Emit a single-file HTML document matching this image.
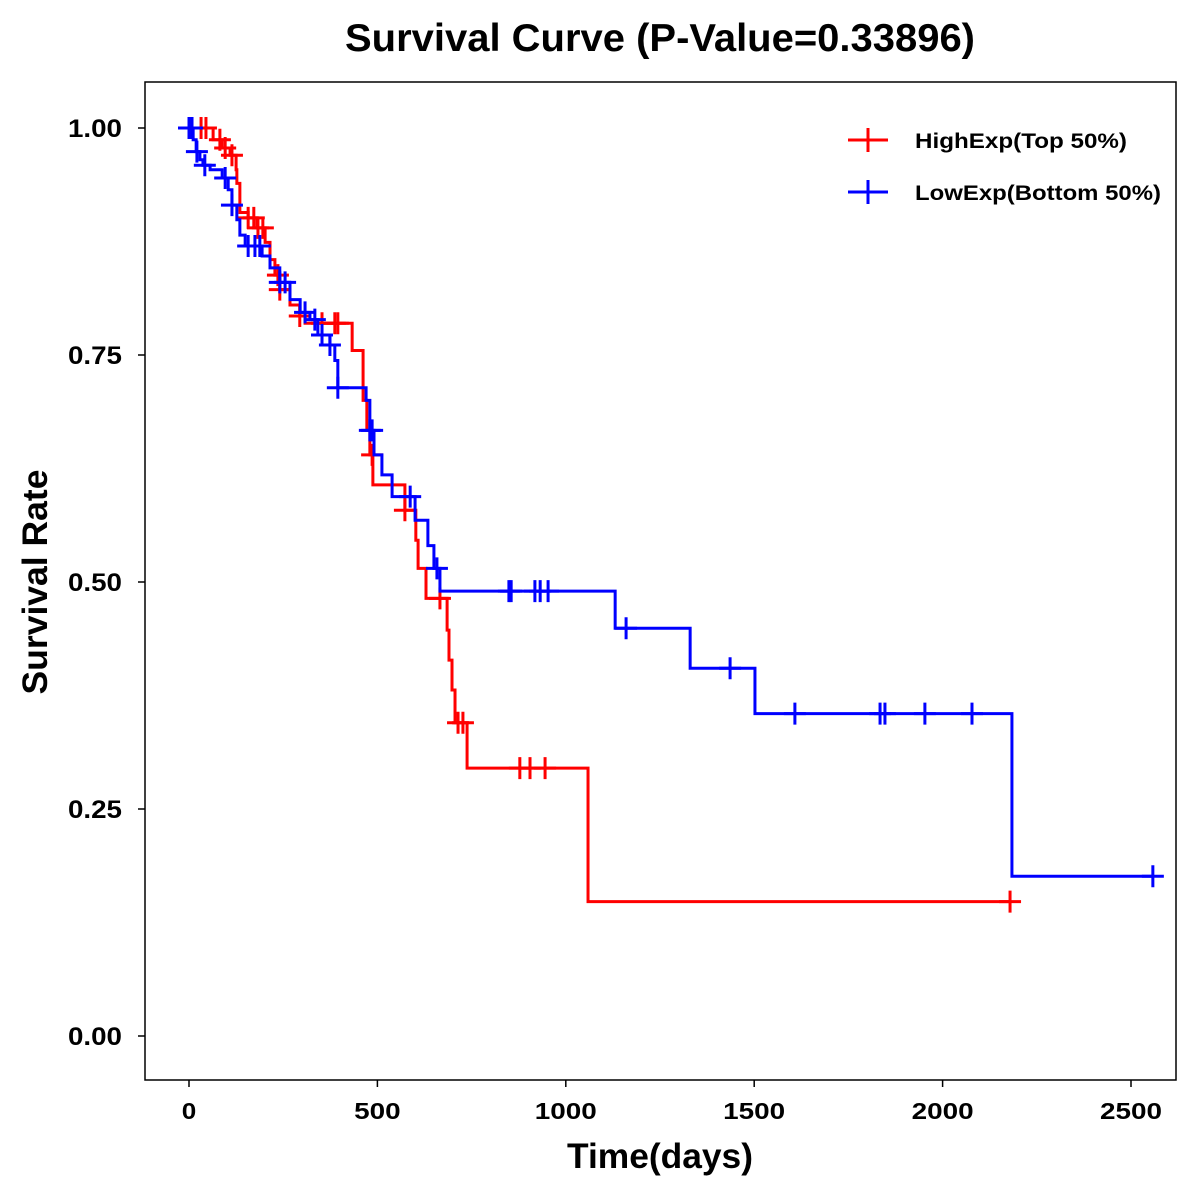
<!DOCTYPE html>
<html><head><meta charset="utf-8"><style>body{margin:0;background:#fff}svg{display:block}text{font-family:"Liberation Sans",Arial,sans-serif;font-weight:bold}</style></head>
<body>
<svg id="chart" width="1200" height="1200" viewBox="0 0 1200 1200">
<rect x="0" y="0" width="1200" height="1200" fill="#fff"/>
<text x="660" y="51" font-size="39" text-anchor="middle" textLength="630" lengthAdjust="spacingAndGlyphs">Survival Curve (P-Value=0.33896)</text>
<rect x="145" y="82" width="1031" height="998" fill="none" stroke="#000" stroke-width="1.5"/>
<g id="axes"></g>
<g id="series"></g>
<text x="660" y="1168" font-size="35" text-anchor="middle" textLength="186" lengthAdjust="spacingAndGlyphs">Time(days)</text>
<text x="47" y="582" font-size="35" text-anchor="middle" transform="rotate(-90 47 582)" textLength="225" lengthAdjust="spacingAndGlyphs">Survival Rate</text>
<g>
<g><line x1="848" y1="140" x2="888" y2="140" stroke="#f00" stroke-width="3"/><line x1="868" y1="128" x2="868" y2="152" stroke="#f00" stroke-width="3"/><text x="915" y="148" font-size="21" textLength="212" lengthAdjust="spacingAndGlyphs">HighExp(Top 50%)</text></g>
<g><line x1="848" y1="192" x2="888" y2="192" stroke="#00f" stroke-width="3"/><line x1="868" y1="180" x2="868" y2="204" stroke="#00f" stroke-width="3"/><text x="915" y="200" font-size="21" textLength="246" lengthAdjust="spacingAndGlyphs">LowExp(Bottom 50%)</text></g>
</g>
</svg>
<script>
const xTicks = [0,500,1000,1500,2000,2500];
const yTicks = [0,0.25,0.5,0.75,1.0];
const yTickLabels = ["0.00","0.25","0.50","0.75","1.00"];
const highTimes = [64,88,109,125,127,135,157,180,202,215,228,241,268,294,308,433,462,472,480,488,573,602,608,629,685,690,698,706,738,1059];
const highSurv = [.987,.978,.970,.954,.939,.907,.901,.890,.874,.855,.838,.822,.805,.793,.785,.755,.700,.667,.640,.607,.579,.546,.515,.482,.447,.414,.381,.345,.295,.148];
const highCensor = [32,45,82,96,114,157,172,183,196,236,241,294,353,387,395,486,573,666,714,727,878,905,945,2179];
const lowTimes = [11,19,29,37,56,88,104,114,127,135,149,194,215,241,268,295,321,342,374,387,395,470,480,491,512,539,600,634,650,666,1131,1330,1502,2184];
const lowSurv = [.987,.974,.965,.959,.954,.945,.932,.915,.899,.882,.870,.859,.846,.830,.811,.797,.789,.772,.761,.744,.714,.700,.667,.640,.618,.594,.568,.540,.515,.490,.449,.405,.355,.176];
const lowCensor = [0,8,21,42,96,114,157,175,188,241,255,308,334,353,374,395,480,486,587,658,849,855,918,932,953,1160,1436,1608,1834,1847,1953,2078,2558];
const endHigh = 2179, endLow = 2558;

const NS="http://www.w3.org/2000/svg";
const X = t => 189 + t*(942/2500);
const Y = s => 1036 - s*908;
function mk(tag, attrs, parent){const e=document.createElementNS(NS,tag);for(const k in attrs)e.setAttribute(k,attrs[k]);parent.appendChild(e);return e;}
const axes=document.getElementById('axes'), series=document.getElementById('series');
xTicks.forEach(t=>{
  const l=mk('line',{x1:X(t),x2:X(t),y1:1080,y2:1087,stroke:'#000','stroke-width':1.5},axes);
  
  
  const s=String(t);
  const tx=mk('text',{x:X(t),y:1119,'font-size':23,'text-anchor':'middle',textLength:s.length*15.5-(s.length>1?0:1),lengthAdjust:'spacingAndGlyphs'},axes);
  tx.textContent=s;
  
  
});
yTicks.forEach((s,i)=>{
  const l=mk('line',{x1:138,x2:145,y1:Y(s),y2:Y(s),stroke:'#000','stroke-width':1.5},axes);
  
  
  const tx=mk('text',{x:122,y:Y(s)+9,'font-size':25,'text-anchor':'end',textLength:54,lengthAdjust:'spacingAndGlyphs'},axes);
  tx.textContent=yTickLabels[i];
  
  
});
function survAt(times,surv,t){let s=1;for(let i=0;i<times.length;i++){if(times[i]<=t)s=surv[i];}return s;}
function draw(times,surv,cens,end,color,name){
  let d=`M${X(0)},${Y(1)}`;
  times.forEach((t,i)=>{d+=` H${X(t)} V${Y(surv[i])}`;});
  d+=` H${X(end)}`;
  const p=mk('path',{d:d,fill:'none',stroke:color,'stroke-width':3},series);
  
  
  cens.forEach(t=>{
    const s=survAt(times,surv,t);const cx=X(t),cy=Y(s);
    const g=mk('path',{d:`M${cx-11},${cy} H${cx+11} M${cx},${cy-11} V${cy+11}`,stroke:color,'stroke-width':3,fill:'none'},series);
    
    
  });
}
draw(highTimes,highSurv,highCensor,endHigh,'#f00','high-exp');
draw(lowTimes,lowSurv,lowCensor,endLow,'#00f','low-exp');
</script>
</body></html>
